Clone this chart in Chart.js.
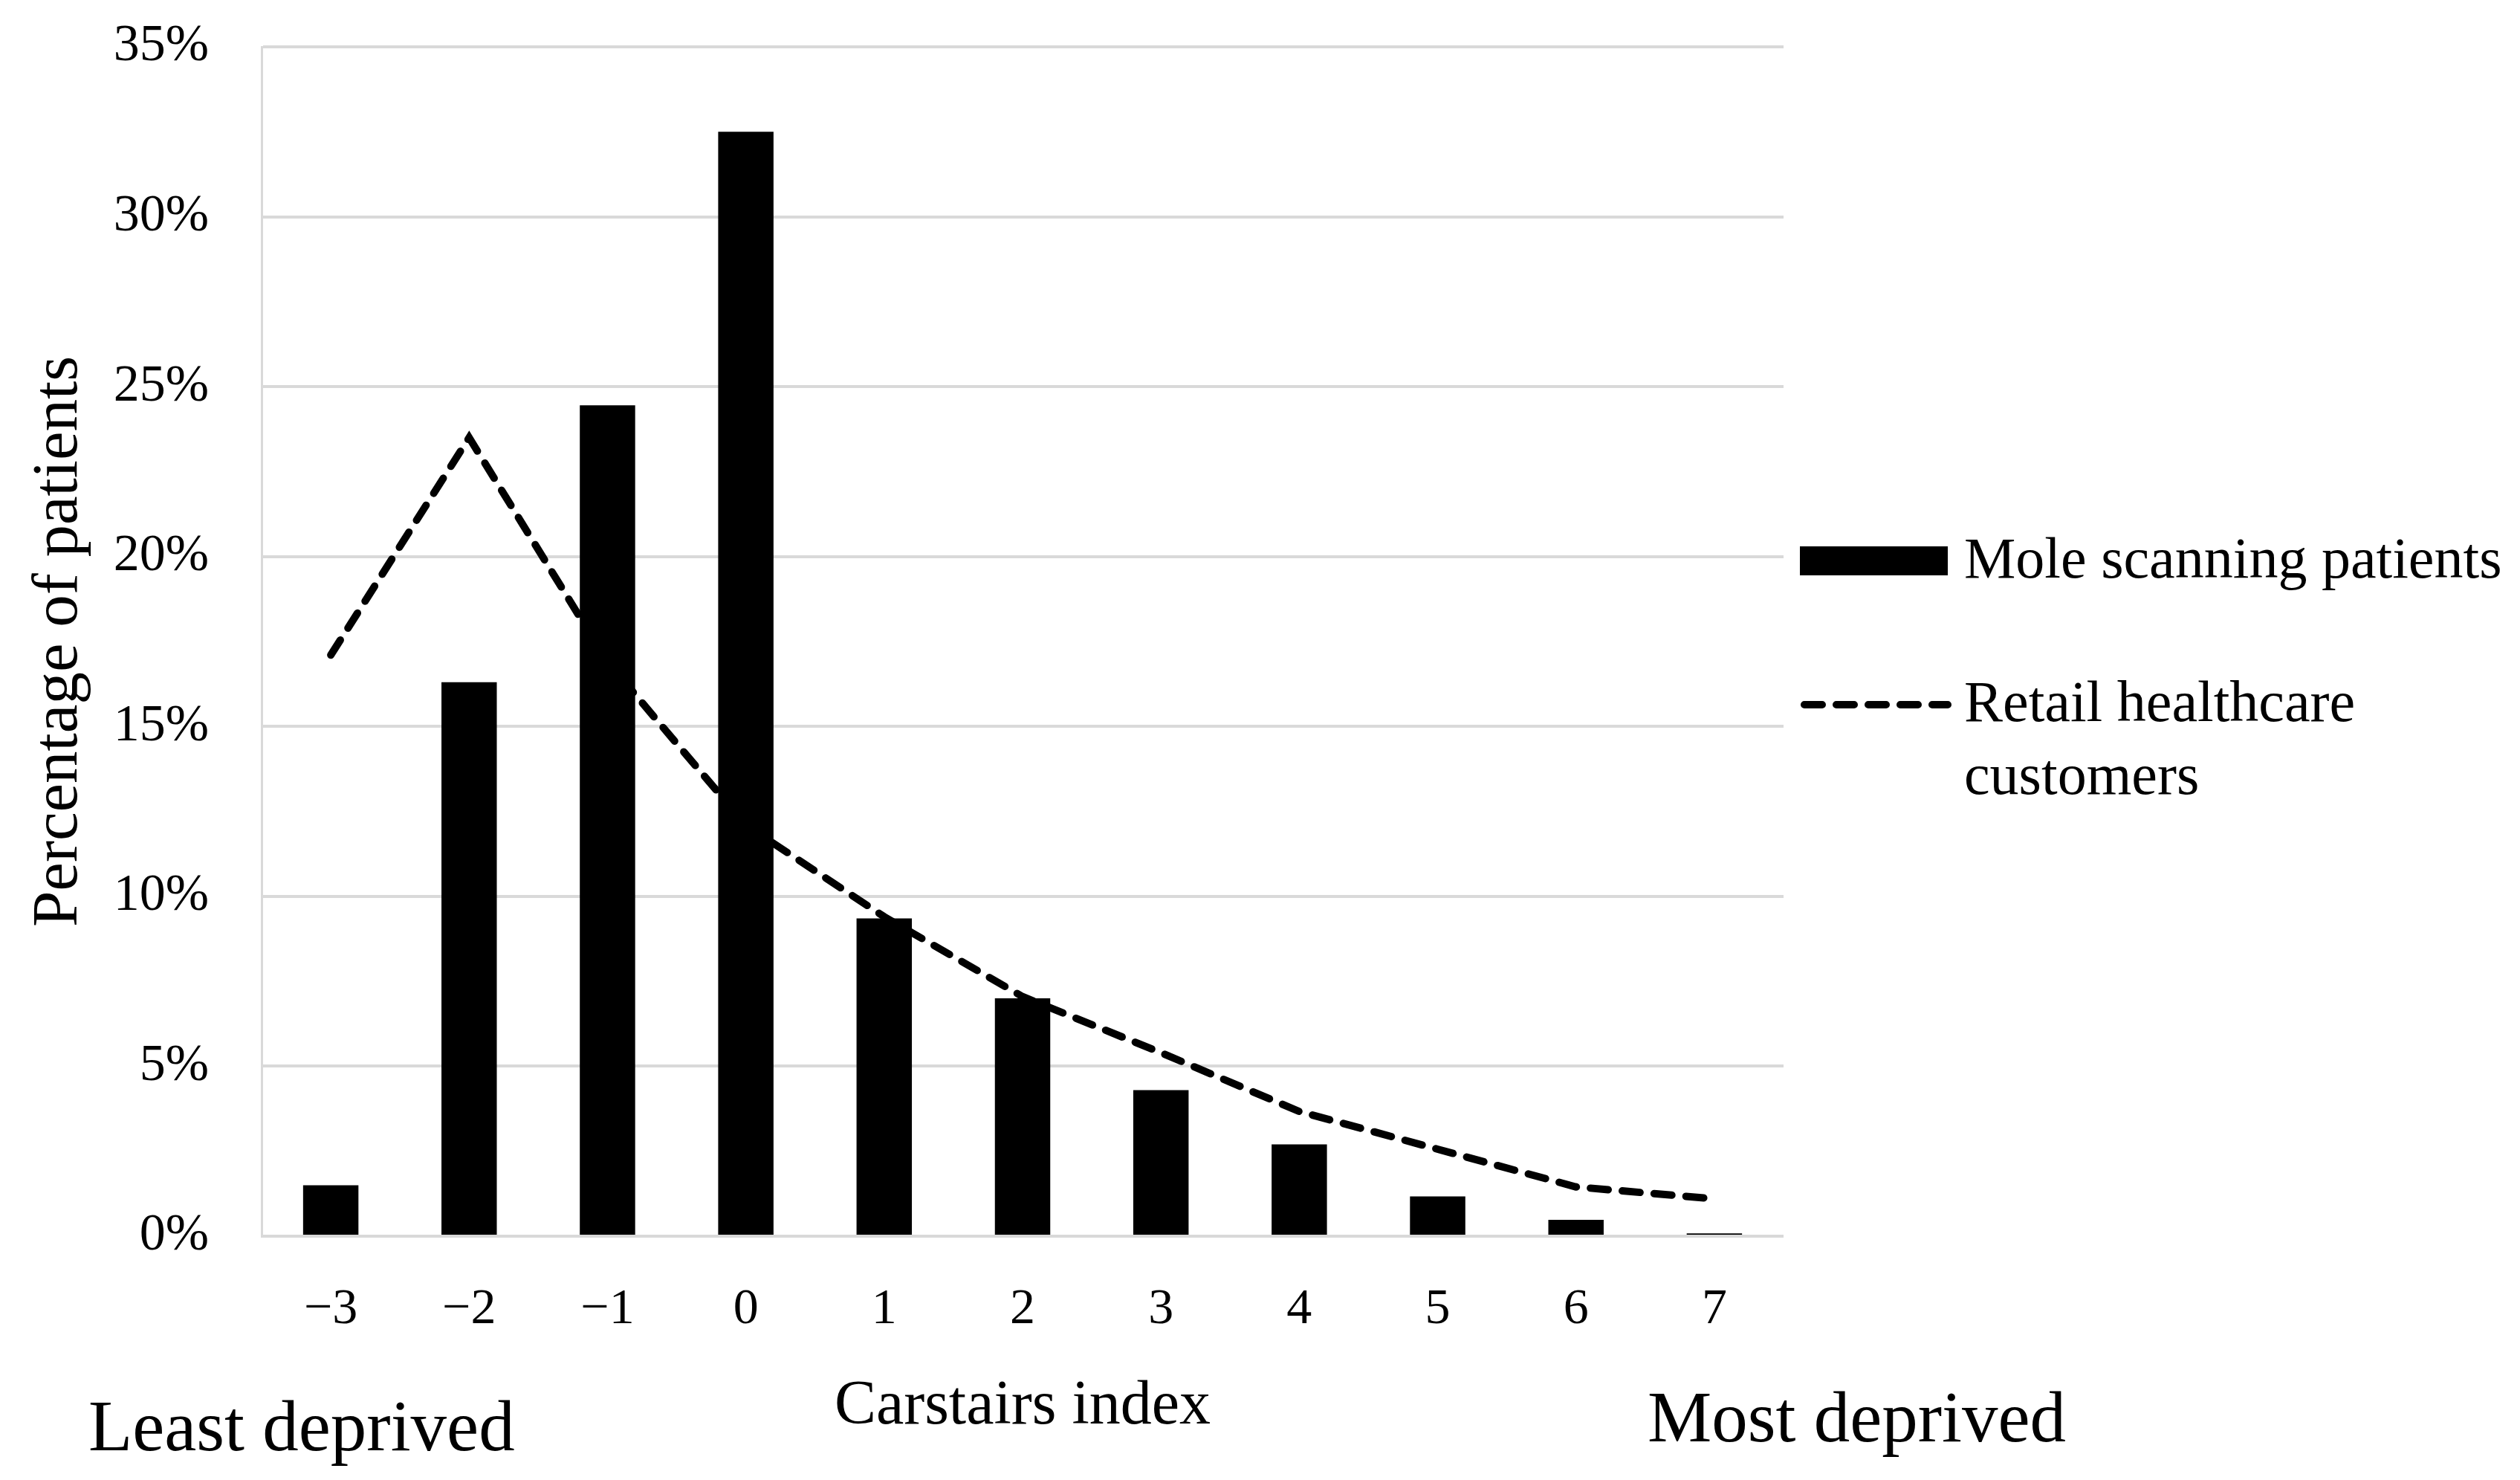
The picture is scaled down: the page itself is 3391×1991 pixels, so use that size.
<!DOCTYPE html>
<html>
<head>
<meta charset="utf-8">
<script src="https://cdn.jsdelivr.net/npm/chart.js@4"></script>
<style>
  html, body { margin: 0; padding: 0; background: #fff; }
  #wrap { width: 3391px; height: 1991px; position: relative; }
</style>
</head>
<body>
<div id="wrap"><canvas id="chart"></canvas></div>
<script>
// Carstairs index categories
const categories = ['\u22123', '\u22122', '\u22121', '0', '1', '2', '3', '4', '5', '6', '7']
// percentages
const moleScanning = [1.5, 16.3, 24.45, 32.5, 9.35, 7.0, 4.3, 2.7, 1.17, 0.48, 0.08]
const retailCustomers = [17.1, 23.5, 16.9, 12.1, 9.4, 7.05, 5.4, 3.67, 2.56, 1.45, 1.1]
const yMax = 35
const yStep = 5
const seriesNames = ['Mole scanning patients', ['Retail healthcare', 'customers']]
const endLabels = ['Least deprived', 'Most deprived']

const FONT = "'Liberation Serif', serif"
const DASH = [24, 19]

const sidePlugin = {
  id: 'sideStuff',
  afterDraw(chart) {
    const ctx = chart.ctx
    const area = chart.chartArea
    ctx.save()
    // legend
    const lx = area.right + 22
    ctx.fillStyle = '#000'
    ctx.fillRect(lx, 735, 199, 39)
    ctx.font = '78px ' + FONT
    ctx.textBaseline = 'middle'
    ctx.textAlign = 'left'
    ctx.fillText(seriesNames[0], lx + 221, 757)

    ctx.strokeStyle = '#000'
    ctx.lineWidth = 10
    ctx.lineCap = 'round'
    ctx.setLineDash(DASH)
    ctx.beginPath()
    ctx.moveTo(lx + 6, 948)
    ctx.lineTo(lx + 199, 948)
    ctx.stroke()
    ctx.setLineDash([])
    ctx.fillText(seriesNames[1][0], lx + 221, 950)
    ctx.fillText(seriesNames[1][1], lx + 221, 1048)

    // end labels under the axis
    ctx.font = '97px ' + FONT
    ctx.fillText(endLabels[0], 119, 1926)
    ctx.fillText(endLabels[1], 2217, 1914)
    ctx.restore()
  }
}

new Chart('chart', {
  type: 'bar',
  data: {
    labels: categories,
    datasets: [
      {
        type: 'line',
        label: 'Retail healthcare customers',
        data: retailCustomers,
        borderColor: '#000',
        borderWidth: 10,
        borderDash: DASH,
        borderCapStyle: 'round',
        tension: 0,
        pointRadius: 0,
        fill: false,
        order: 0,
      },
      {
        label: 'Mole scanning patients',
        data: moleScanning,
        backgroundColor: '#000',
        borderWidth: 0,
        barPercentage: 0.4,
        categoryPercentage: 1,
        order: 1,
      }
    ]
  },
  options: {
    responsive: true,
    maintainAspectRatio: false,
    animation: false,
    layout: { padding: { left: 0, top: 63, right: 991, bottom: 0 } },
    plugins: {
      legend: { display: false },
      tooltip: { enabled: false }
    },
    scales: {
      x: {
        grid: { display: false, drawTicks: false },
        border: { display: false },
        ticks: { color: '#000', padding: 58, font: { family: FONT, size: 68 } },
        title: {
          display: true,
          text: 'Carstairs index',
          color: '#000',
          font: { family: FONT, size: 84 },
          padding: { top: 0, bottom: 48 }
        },
        afterFit(scale) {
          scale.height = 328
          scale.paddingLeft = 0
          scale.paddingRight = 0
        }
      },
      y: {
        min: 0,
        max: yMax,
        grid: { color: '#d9d9d9', lineWidth: 4, drawTicks: false },
        border: { display: true, color: '#d9d9d9', width: 3 },
        ticks: {
          stepSize: yStep,
          color: '#000',
          padding: 71,
          font: { family: FONT, size: 70 },
          callback: v => v + '%'
        },
        title: {
          display: true,
          text: 'Percentage of patients',
          color: '#000',
          font: { family: FONT, size: 87 },
          padding: { top: 28, bottom: 0 }
        },
        afterFit(scale) {
          scale.width = 352
          scale.paddingTop = 0
          scale.paddingBottom = 0
        }
      }
    }
  },
  plugins: [sidePlugin]
})
</script>
</body>
</html>
